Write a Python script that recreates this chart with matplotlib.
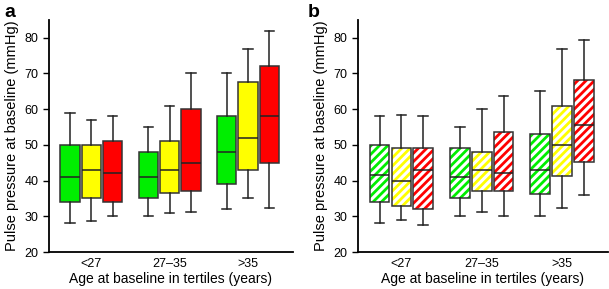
import matplotlib.pyplot as plt
from matplotlib.patches import PathPatch

plt.rcParams['font.family'] = ['Liberation Sans', 'DejaVu Sans']
plt.rcParams['hatch.linewidth'] = 2.0

groups = ['<27', '27\u201335', '>35']
colors = ['#00ee00', '#ffff00', '#ff0000']

# per group: green, yellow, red -> (low whisker, q1, median, q3, high whisker)
panel_a = [
    [(28, 34, 41, 50, 59), (28.8, 35, 43, 50, 57), (30, 34, 42, 51, 58)],
    [(30, 35, 41, 48, 55), (31, 36.5, 43, 51, 61), (31.2, 37, 45, 60, 70)],
    [(32, 39, 48, 58, 70), (35, 43, 52, 67.5, 77), (32.4, 45, 58, 72, 82)],
]
panel_b = [
    [(28, 34, 41.5, 50, 58), (29, 33, 40, 49, 58.4), (27.7, 32, 43, 49.2, 58)],
    [(30, 35, 41, 49, 55), (31.2, 37.2, 43, 48, 60), (30, 37.2, 42, 53.5, 63.8)],
    [(30.1, 36.2, 43, 53, 65), (32.3, 41.2, 50, 61, 76.8), (36, 45.2, 55.6, 68.2, 79.4)],
]


def draw(ax, data, hatched):
    stats, pos, cols = [], [], []
    for g, grp in enumerate(data):
        for k, (lo, q1, med, q3, hi) in enumerate(grp):
            stats.append(dict(whislo=lo, q1=q1, med=med, q3=q3, whishi=hi))
            pos.append(g + 1 + (k - 1) * 0.272)
            cols.append(colors[k])
    bp = ax.bxp(stats, positions=pos, widths=0.245, patch_artist=True,
                showfliers=False,
                boxprops=dict(edgecolor='#333333', linewidth=1.1),
                medianprops=dict(color='#222222', linewidth=1.1),
                whiskerprops=dict(color='#222222', linewidth=1.1),
                capprops=dict(color='#222222', linewidth=1.1),
                capwidths=0.12)
    for box, c in zip(bp['boxes'], cols):
        if hatched:
            box.set_facecolor('none')
            ax.add_patch(PathPatch(box.get_path(), facecolor='white', edgecolor=c,
                                   hatch='////', linewidth=0, zorder=1.5))
        else:
            box.set_facecolor(c)

    ax.set_xlim(0.46, 3.57)
    ax.set_ylim(20, 85)
    ax.set_yticks(range(20, 90, 10))
    ax.set_xticks([1, 2, 3])
    ax.set_xticklabels(groups)
    ax.tick_params(axis='x', length=0, labelsize=9, pad=4)
    ax.tick_params(axis='y', length=4, width=1, labelsize=9)
    for s in ['top', 'right']:
        ax.spines[s].set_visible(False)
    for s in ['left', 'bottom']:
        ax.spines[s].set_linewidth(1.3)
    ax.set_ylabel('Pulse pressure at baseline (mmHg)', fontsize=10.5)
    ax.set_xlabel('Age at baseline in tertiles (years)', fontsize=10, labelpad=2)


fig = plt.figure(figsize=(6.09, 2.89), dpi=100)
ax1 = fig.add_axes([0.0805, 0.128, 0.40, 0.803])
ax2 = fig.add_axes([0.588, 0.128, 0.41, 0.803])
draw(ax1, panel_a, False)
draw(ax2, panel_b, True)
fig.text(0.008, 0.985, 'a', fontsize=14, fontweight='bold', va='top')
fig.text(0.505, 0.985, 'b', fontsize=14, fontweight='bold', va='top')

fig.savefig('out.png', dpi=100)
